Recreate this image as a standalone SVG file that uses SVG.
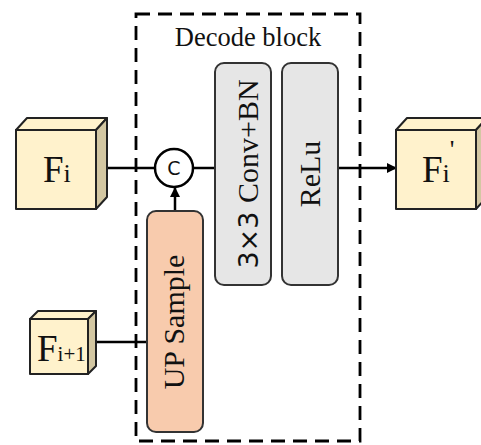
<svg xmlns="http://www.w3.org/2000/svg" width="481" height="445" viewBox="0 0 481 445">
  <style>
    .serif { font-family: "Liberation Serif", "Times New Roman", serif; fill: #111; }
    .sans { font-family: "DejaVu Sans", "Liberation Sans", sans-serif; fill: #111; }
    .front { fill: #fff2cc; stroke: #222; stroke-width: 2; stroke-linejoin: round; }
    .top { fill: #fff2cc; stroke: #222; stroke-width: 2; stroke-linejoin: round; }
    .side { fill: #d3c7a2; stroke: #222; stroke-width: 2; stroke-linejoin: round; }
    .op { fill: #e6e6e6; stroke: #333; stroke-width: 2; }
    .up { fill: #f8cbad; stroke: #333; stroke-width: 2; }
    .wire { fill: none; stroke: #000; stroke-width: 2.5; }
  </style>
  <defs>
    <marker id="arrow" markerWidth="10" markerHeight="10" refX="9" refY="5" orient="auto" markerUnits="userSpaceOnUse">
      <path d="M0,0 L10,5 L0,10 Z" fill="#000"/>
    </marker>
  </defs>

  <rect width="481" height="445" fill="#fff"/>

  <!-- decode block frame -->
  <g id="decode-block">
    <rect x="136" y="14" width="224" height="427" fill="none" stroke="#000" stroke-width="2.8" stroke-dasharray="14 8"/>
    <text class="serif" x="248" y="46" font-size="26.5" text-anchor="middle">Decode block</text>
  </g>

  <!-- connectors -->
  <g id="connectors">
    <line class="wire" x1="107" y1="168" x2="155" y2="168"/>
    <line class="wire" x1="193" y1="168" x2="215" y2="168"/>
    <line class="wire" x1="175" y1="211" x2="175" y2="188" marker-end="url(#arrow)"/>
    <line class="wire" x1="338" y1="168" x2="396" y2="168" marker-end="url(#arrow)"/>
    <line class="wire" x1="96" y1="342" x2="147" y2="342"/>
  </g>

  <!-- input feature F_i -->
  <g id="node-fi">
    <polygon class="top" points="16,130 27,118 107,118 96,130"/>
    <polygon class="side" points="96,130 107,118 107,197 96,209"/>
    <rect class="front" x="16" y="130" width="80" height="79"/>
    <text class="serif" x="43" y="182" font-size="37">F<tspan font-size="26">i</tspan></text>
  </g>

  <!-- input feature F_{i+1} -->
  <g id="node-fi1">
    <polygon class="top" points="30,319 38,311 96,311 88,319"/>
    <polygon class="side" points="88,319 96,311 96,366 88,374"/>
    <rect class="front" x="30" y="319" width="58" height="55"/>
    <text class="serif" x="37" y="361" font-size="37">F<tspan font-size="21">i+1</tspan></text>
  </g>

  <!-- concatenation -->
  <g id="node-concat">
    <circle cx="174" cy="168" r="19" fill="#fff" stroke="#000" stroke-width="2.5"/>
    <text class="sans" x="174" y="175" font-size="19" text-anchor="middle">C</text>
  </g>

  <!-- up sample -->
  <g id="node-upsample">
    <rect class="up" x="147" y="211" width="56" height="221" rx="9"/>
    <text class="serif" font-size="30" text-anchor="middle" transform="translate(184,322) rotate(-90)">UP Sample</text>
  </g>

  <!-- 3x3 conv + BN -->
  <g id="node-conv">
    <rect class="op" x="215" y="63" width="56" height="222" rx="9"/>
    <text font-size="30" text-anchor="middle" transform="translate(258,174) rotate(-90)"><tspan class="sans" font-size="27">3×3 </tspan><tspan class="serif">Conv+BN</tspan></text>
  </g>

  <!-- relu -->
  <g id="node-relu">
    <rect class="op" x="282" y="63" width="56" height="222" rx="9"/>
    <text class="serif" font-size="30" text-anchor="middle" transform="translate(320,174) rotate(-90)">ReLu</text>
  </g>

  <!-- output feature F_i' -->
  <g id="node-fi-out">
    <polygon class="top" points="396,130 407,118 487,118 476,130"/>
    <polygon class="side" points="476,130 487,118 487,197 476,209"/>
    <rect class="front" x="396" y="130" width="80" height="79"/>
    <text class="serif" x="422" y="182" font-size="37">F<tspan font-size="26">i</tspan><tspan font-size="26" dy="-24">'</tspan></text>
  </g>
</svg>
